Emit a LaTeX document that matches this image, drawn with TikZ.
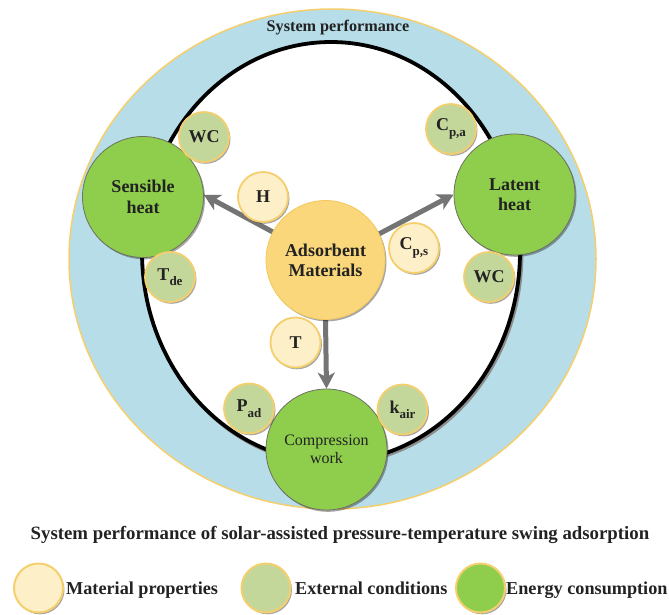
\documentclass[tikz,border=0pt]{standalone}
\usepackage{fontspec}
\setmainfont{Liberation Serif}
\usetikzlibrary{arrows.meta,shadows}
\definecolor{blueband}{HTML}{B7DDE8}
\definecolor{ybord}{HTML}{F5CF6E}
\definecolor{matfill}{HTML}{FDEFC8}
\definecolor{extfill}{HTML}{C4D79B}
\definecolor{adsfill}{HTML}{F9D77A}
\definecolor{adsbord}{HTML}{F1C95F}
\definecolor{grfill}{HTML}{8ECE4C}
\definecolor{grbord}{HTML}{6E7060}
\definecolor{arrgray}{HTML}{747474}
\definecolor{txt}{HTML}{222222}
\newcommand{\sbs}[1]{\raisebox{-0.65ex}{\fontsize{13}{13}\selectfont #1}}
\pgfdeclarelayer{bg}
\pgfsetlayers{bg,main}
\begin{document}
\begin{tikzpicture}[x=1pt,y=-1pt,
  shad/.style={drop shadow={shadow xshift=1.5pt,shadow yshift=-1.8pt,opacity=0.35,fill=black}},
  base/.style={circle,inner sep=0pt,text=txt,align=center,shad},
  matc/.style={base,fill=matfill,draw=ybord,line width=1.8pt,minimum size=50pt,font=\fontsize{18}{20}\selectfont\bfseries},
  extc/.style={base,fill=extfill,draw=ybord,line width=1.8pt,minimum size=50pt,font=\fontsize{18}{20}\selectfont\bfseries},
  engc/.style={base,fill=grfill,draw=grbord,line width=0.8pt,minimum size=121pt,font=\fontsize{18}{20.5}\selectfont\bfseries},
  adsc/.style={base,fill=adsfill,draw=adsbord,line width=0.8pt,minimum size=119pt,font=\fontsize{18}{20}\selectfont\bfseries},
  legc/.style={circle,inner sep=0pt,draw=ybord,line width=2pt,minimum size=49pt,shad},
  legt/.style={anchor=base west,inner sep=0pt,text=txt,font=\fontsize{18.2}{20}\selectfont\bfseries},
  arr/.style={-{Stealth[width=17pt,length=16pt,inset=4.5pt]},line width=5pt,draw=arrgray},
  ring/.style={line width=3.8pt,draw=black,fill=white}
]
\useasboundingbox (0,0) rectangle (669,614);

% energy nodes
\node[engc] (sens) at (143,197) {Sensible\\heat};
\node[engc] (lat) at (514.5,194.5) {Latent\\heat};
\node[engc,font=\fontsize{16}{17.5}\selectfont] (comp) at (326.5,449.5) {Compression\\work};
\node[adsc] (ads) at (325.5,260) {Adsorbent\\Materials};

% material properties
\node[matc] (h) at (263,197) {H};
\node[matc] (cps) at (414,248) {C\sbs{p,s}};
\node[matc] (t) at (295.5,342.5) {T};

% external conditions
\node[extc] (wc1) at (204,137) {WC};
\node[extc] (cpa) at (451,129) {C\sbs{p,a}};
\node[extc] (tde) at (170,277) {T\sbs{de}};
\node[extc] (wc2) at (489,277) {WC};
\node[extc] (pad) at (249,408.5) {P\sbs{ad}};
\node[extc] (kair) at (402.5,409.5) {k\sbs{air}};

% titles
\node[text=txt,font=\fontsize{16.2}{17}\selectfont\bfseries] (sp) at (338,28) {System performance};
\node[text=txt,font=\fontsize{18.8}{20}\selectfont\bfseries] (title) at (340,535) {System performance of solar-assisted pressure-temperature swing adsorption};

% legend
\node[legc,fill=matfill] (l1) at (38.5,588) {};
\node[legc,fill=extfill] (l2) at (266,588) {};
\node[legc,fill=grfill] (l3) at (480.5,588) {};
\node[legt] (t1) at (66,594) {Material properties};
\node[legt] (t2) at (295,594) {External conditions};
\node[legt] (t3) at (506,594) {Energy consumption};

\begin{pgfonlayer}{bg}
\fill[blueband,draw=ybord,line width=1.5pt] (332.5,259) ellipse [x radius=263.5,y radius=250];
\draw[line width=3.8pt,draw=black!45] (332.5,253.8) ellipse [x radius=189,y radius=210];
\draw[ring] (331,252) ellipse [x radius=189,y radius=210];
\draw[arr] (ads.152) -- (sens.2);
\draw[arr] (ads.26) -- (lat.180);
\draw[arr] (ads.south) -- (comp.north);
\end{pgfonlayer}
\end{tikzpicture}
\end{document}
